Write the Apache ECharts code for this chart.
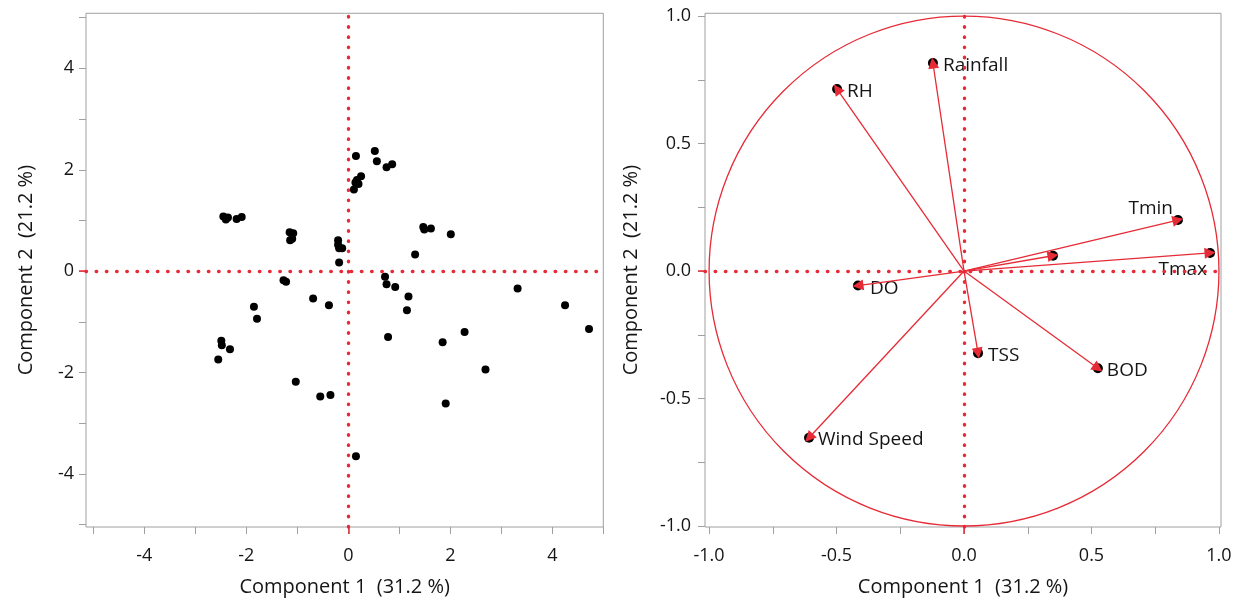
<!DOCTYPE html>
<html>
<head>
<meta charset="utf-8">
<script src="https://cdn.jsdelivr.net/npm/echarts@6/dist/echarts.min.js"></script>
<style>
  html, body { margin: 0; padding: 0; background: #fff; }
  #chart { width: 1245px; height: 602px; }
</style>
</head>
<body>
<div id="chart"></div>
<script>
// PCA: score plot on the left, loading plot (with unit circle) on the right.

// component 1 / component 2 scores, one pair per observation
const scores = [
  [0.15, 2.27], [0.52, 2.37], [0.56, 2.17], [0.75, 2.05], [0.86, 2.11],
  [0.25, 1.87], [0.17, 1.80], [0.20, 1.72], [0.14, 1.75], [0.11, 1.61],
  [-2.45, 1.08], [-2.40, 1.02], [-2.36, 1.06], [-2.19, 1.03], [-2.09, 1.07],
  [-1.15, 0.77], [-1.08, 0.75], [-1.10, 0.64], [-1.14, 0.61],
  [-0.20, 0.61], [-0.20, 0.52], [-0.18, 0.45], [-0.12, 0.45], [-0.18, 0.17],
  [-1.27, -0.18], [-1.22, -0.21], [-0.69, -0.54], [-0.38, -0.67],
  [-1.85, -0.70], [-1.79, -0.94],
  [0.72, -0.11], [0.75, -0.26], [0.92, -0.31],
  [1.18, -0.50], [1.15, -0.77], [1.31, 0.33],
  [1.47, 0.87], [1.49, 0.82], [1.62, 0.84], [2.01, 0.73],
  [3.32, -0.34], [4.25, -0.67], [4.72, -1.14],
  [-2.49, -1.37], [-2.48, -1.46], [-2.32, -1.54], [-2.55, -1.74],
  [0.78, -1.30], [1.85, -1.40], [2.28, -1.20],
  [-1.03, -2.18], [-0.55, -2.47], [-0.35, -2.44],
  [1.91, -2.61], [2.69, -1.94], [0.15, -3.65]
]

// loadings of each variable on component 1 / component 2
const loadingNames = ['Rainfall', 'RH', 'Tmin', 'Tmax', '', 'DO', 'TSS', 'BOD', 'Wind Speed']
const loadingX = [-0.122, -0.498, 0.839, 0.965, 0.349, -0.416, 0.055, 0.525, -0.608]
const loadingY = [0.816, 0.714, 0.200, 0.071, 0.060, -0.057, -0.322, -0.381, -0.654]
const circleRadius = 1

// tick positions and labelled ticks
const scoreTicks = [-5, -4, -3, -2, -1, 0, 1, 2, 3, 4, 5]
const scoreLabels = [-4, -2, 0, 2, 4]
const loadingTicks = [-1, -0.75, -0.5, -0.25, 0, 0.25, 0.5, 0.75, 1]
const loadingLabels = [-1, -0.5, 0, 0.5, 1]

const xTitle = 'Component 1  (31.2 %)'
const yTitle = 'Component 2  (21.2 %)'

const RED = '#e62b36'
const GRAY = '#a0a0a0'
const TEXT = '#151515'
const FONT = 'Open Sans'

// where each loading label sits next to its dot
const labelPlace = {
  'Rainfall': { position: 'right', offset: [0, 3] },
  'RH': { position: 'right', offset: [0, 3] },
  'Tmin': { position: 'left', offset: [5, -11] },
  'Tmax': { position: 'left', offset: [7, 17] },
  'DO': { position: 'right', offset: [2, 3] },
  'TSS': { position: 'right', offset: [0, 2] },
  'BOD': { position: 'right', offset: [-1, 2] },
  'Wind Speed': { position: 'right', offset: [-1, 2] },
}

function axis(gridIndex, min, max, ticks, labels, fmt, position, nameGap, labelMargin) {
  return {
    type: 'value', gridIndex, min, max, position,
    name: position === 'bottom' ? xTitle : yTitle,
    nameLocation: 'middle', nameGap,
    nameTextStyle: { color: TEXT, fontSize: 20, fontFamily: FONT },
    axisLine: { show: false, onZero: false },
    axisTick: { show: true, length: 7, customValues: ticks, lineStyle: { color: GRAY, width: 1 } },
    axisLabel: { customValues: labels, formatter: fmt, color: TEXT, fontSize: 18, fontFamily: FONT, margin: labelMargin },
    splitLine: { show: false },
  }
}

// overlay axis that only paints the red tick at zero
function zeroTick(gridIndex, min, max, position) {
  return {
    type: 'value', gridIndex, min, max, position,
    axisLine: { show: false, onZero: false },
    axisTick: { show: true, length: 7, customValues: [0], lineStyle: { color: RED, width: 1.5 } },
    axisLabel: { show: false },
    splitLine: { show: false },
  }
}

const zeroLines = {
  silent: true,
  symbol: 'none',
  label: { show: false },
  lineStyle: { color: RED, width: 3.4, type: [0.5, 9.7], cap: 'round' },
  data: [{ xAxis: 0 }, { yAxis: 0 }],
}

const intFmt = function (v) { return String(v) }
const decFmt = function (v) { return v.toFixed(1) }

// axis ranges run a little past the labelled ends, like the framed original
const sMin = -5.143, sMax = 5, sYMin = -5.045, sYMax = 5.086
const lMin = -1.016, lMax = 1.008, lYMin = -1.004, lYMax = 1.011

const chart = echarts.init(document.getElementById('chart'))
chart.setOption({
  animation: false,
  backgroundColor: '#fff',
  grid: [
    { left: 86, top: 13.3, width: 517.3, height: 516.7, show: true, borderColor: GRAY, borderWidth: 1, backgroundColor: 'transparent' },
    { left: 705, top: 13.3, width: 516, height: 516.7, show: true, borderColor: GRAY, borderWidth: 1, backgroundColor: 'transparent' },
  ],
  xAxis: [
    axis(0, sMin, sMax, scoreTicks, scoreLabels, intFmt, 'bottom', 50, 20),
    axis(1, lMin, lMax, loadingTicks, loadingLabels, decFmt, 'bottom', 50, 20),
    zeroTick(0, sMin, sMax, 'bottom'),
    zeroTick(1, lMin, lMax, 'bottom'),
  ],
  yAxis: [
    axis(0, sYMin, sYMax, scoreTicks, scoreLabels, intFmt, 'left', 50, 12),
    axis(1, lYMin, lYMax, loadingTicks, loadingLabels, decFmt, 'left', 64, 14),
    zeroTick(0, sYMin, sYMax, 'left'),
    zeroTick(1, lYMin, lYMax, 'left'),
  ],
  series: [
    {
      type: 'scatter', xAxisIndex: 0, yAxisIndex: 0,
      data: scores,
      symbolSize: 8,
      itemStyle: { color: '#000', opacity: 1 },
      markLine: zeroLines,
      z: 3,
    },
    {
      // unit circle drawn through the axis scales
      type: 'custom', xAxisIndex: 1, yAxisIndex: 1,
      data: [[0, 0, circleRadius]],
      clip: false,
      silent: true,
      renderItem: function (params, api) {
        const r = api.value(2)
        const c = api.coord([api.value(0), api.value(1)])
        const ex = api.coord([r, 0])
        const ey = api.coord([0, r])
        return {
          type: 'circle',
          shape: { cx: c[0], cy: c[1], r: ((ex[0] - c[0]) + (c[1] - ey[1])) / 2 },
          style: { fill: 'none', stroke: RED, lineWidth: 1.3 },
        }
      },
      z: 2,
    },
    {
      type: 'scatter', xAxisIndex: 1, yAxisIndex: 1,
      data: loadingNames.map(function (n, i) {
        const p = labelPlace[n]
        return {
          name: n,
          value: [loadingX[i], loadingY[i]],
          label: p ? { show: true, position: p.position, offset: p.offset } : { show: false },
        }
      }),
      symbolSize: 10,
      itemStyle: { color: '#000', opacity: 1 },
      label: { formatter: '{b}', color: TEXT, fontSize: 19, fontFamily: FONT },
      markLine: zeroLines,
      z: 3,
    },
    {
      type: 'lines', coordinateSystem: 'cartesian2d', xAxisIndex: 1, yAxisIndex: 1,
      data: loadingNames.map(function (n, i) {
        return { coords: [[0, 0], [loadingX[i], loadingY[i]]] }
      }),
      symbol: ['none', 'triangle'],
      symbolSize: 11,
      lineStyle: { color: RED, width: 1.3, opacity: 1 },
      itemStyle: { color: RED },
      silent: true,
      z: 4,
    },
  ],
})
</script>
</body>
</html>
